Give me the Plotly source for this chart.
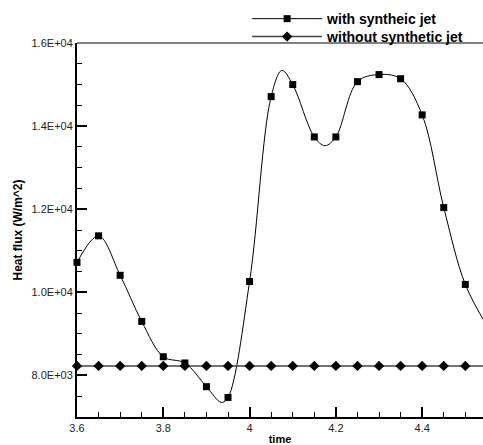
import plotly.graph_objects as go

# time samples (s); samples flagged False are curve-only points (no symbol)
time = [3.600, 3.650, 3.700, 3.750, 3.800, 3.850, 3.900, 3.935, 3.950, 4.000,
        4.050, 4.075, 4.100, 4.150, 4.175, 4.200, 4.250, 4.300, 4.350, 4.400,
        4.450, 4.500, 4.550]
marked = [True, True, True, True, True, True, True, False, True, True,
          True, False, True, True, False, True, True, True, True, True,
          True, True, True]

# heat flux with the synthetic jet (W/m^2)
flux_jet = [10720, 11360, 10410, 9300, 8450, 8300, 7730, 7350, 7470, 10260,
            14710, 15340, 15000, 13740, 13530, 13740, 15070, 15240, 15140, 14270,
            12040, 10190, 9200]

# heat flux without the synthetic jet (W/m^2)
time_nojet = [3.60, 3.65, 3.70, 3.75, 3.80, 3.85, 3.90, 3.95, 4.00, 4.05,
              4.10, 4.15, 4.20, 4.25, 4.30, 4.35, 4.40, 4.45, 4.50, 4.55]
flux_nojet = [8230] * len(time_nojet)

x_ticks = [3.6, 3.8, 4.0, 4.2, 4.4]
x_labels = ["3.6", "3.8", "4", "4.2", "4.4"]
y_ticks = [8000, 10000, 12000, 14000, 16000]
y_labels = ["8.0E+03", "1.0E+04", "1.2E+04", "1.4E+04", "1.6E+04"]

FONT = "Liberation Sans, Arial, Helvetica, sans-serif"

fig = go.Figure()
fig.add_trace(go.Scatter(
    x=time, y=flux_jet, name="with syntheic jet", legend="legend",
    mode="lines+markers",
    line=dict(color="black", width=1, shape="spline", smoothing=1.0),
    marker=dict(symbol="square", size=7,
                color=["black" if m else "rgba(0,0,0,0)" for m in marked]),
    cliponaxis=False,
))
fig.add_trace(go.Scatter(
    x=time_nojet, y=flux_nojet, name="without synthetic jet", legend="legend2",
    mode="lines+markers",
    line=dict(color="#444444", width=1.5),
    marker=dict(symbol="diamond", size=8, color="black"),
    cliponaxis=False,
))

axis_common = dict(
    showgrid=False, zeroline=False,
    showline=True, linecolor="black", linewidth=2,
    ticks="inside", ticklen=10, tickwidth=2, tickcolor="black",
    tickfont=dict(family=FONT, size=11, color="#222"),
)

fig.update_xaxes(
    range=[3.6, 4.541], tickvals=x_ticks, ticktext=x_labels,
    minor=dict(dtick=0.05, tick0=3.6, ticks="inside", ticklen=5, tickwidth=1, tickcolor="black"),
    title=dict(text="<b>time</b>", font=dict(family=FONT, size=11, color="black"), standoff=2),
    **axis_common,
)
fig.update_yaxes(
    range=[7000, 16000], tickvals=y_ticks, ticktext=y_labels,
    minor=dict(dtick=500, tick0=7000, ticks="inside", ticklen=5, tickwidth=1, tickcolor="black"),
    title=dict(text="<b>Heat flux (W/m^2)</b>", font=dict(family=FONT, size=12, color="black"), standoff=6),
    **axis_common,
)

# thin frame line along the top of the plotting area
fig.add_shape(type="line", xref="paper", yref="paper", x0=0, x1=1.05, y0=1, y1=1,
              line=dict(color="black", width=1))

legend_style = dict(
    xanchor="left", yanchor="middle",
    font=dict(family=FONT, size=14, color="black", weight="bold"),
    itemwidth=70, bgcolor="rgba(0,0,0,0)", borderwidth=0,
)

fig.update_layout(
    width=483, height=445,
    margin=dict(l=77, r=0, t=43, b=28),
    paper_bgcolor="white", plot_bgcolor="white",
    font=dict(family=FONT, color="black"),
    showlegend=True,
    legend=dict(x=0.419, y=1.064, **legend_style),
    legend2=dict(x=0.419, y=1.016, **legend_style),
)

fig.write_html("out.html")
